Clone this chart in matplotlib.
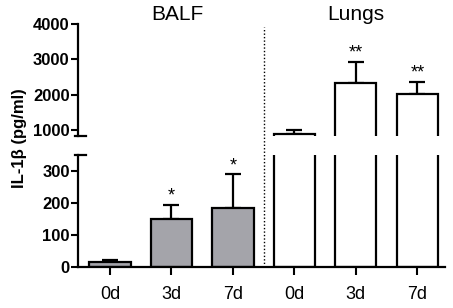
import numpy as np
import matplotlib
matplotlib.use('Agg')
import matplotlib.pyplot as plt

plt.rcParams['font.family'] = ['Liberation Sans', 'DejaVu Sans']

# IL-1beta values (pg/ml), mean and upper SEM
labels = ['0d', '3d', '7d', '0d', '3d', '7d']
groups = ['BALF', 'Lungs']
means = [16, 150, 184, 900, 2330, 2020]
errs = [6, 44, 106, 100, 600, 340]
stars = ['', '*', '*', '', '**', '**']
colors = ['#a4a4aa'] * 3 + ['white'] * 3

x = np.arange(len(labels))
W, H = 453, 308
fig = plt.figure(figsize=(W / 100, H / 100), dpi=100)

left = 78 / W
width = 367 / W
ax_hi = fig.add_axes([left, (H - 136) / H, width, 112 / H])
ax_lo = fig.add_axes([left, (H - 267) / H, width, 112 / H])

for ax in (ax_hi, ax_lo):
    ax.bar(x, means, width=0.67, color=colors, edgecolor='black', linewidth=1.6, zorder=2)
    ax.errorbar(x, means, yerr=[np.zeros(len(errs)), errs], fmt='none',
                ecolor='black', elinewidth=1.6, capsize=5.5, capthick=1.6, zorder=1)
    ax.set_xlim(-0.52, 5.45)
    for s in ['top', 'right']:
        ax.spines[s].set_visible(False)
    ax.spines['left'].set_linewidth(1.6)
    ax.tick_params(axis='y', length=5, width=1.5, labelsize=12, pad=1)

ax_hi.set_ylim(830, 4000)
ax_hi.set_yticks([1000, 2000, 3000, 4000])
ax_hi.spines['bottom'].set_visible(False)
ax_hi.set_xticks([])

ax_lo.set_ylim(0, 350)
ax_lo.set_yticks([0, 100, 200, 300])
ax_lo.spines['bottom'].set_linewidth(1.6)
ax_lo.set_xticks(x)
ax_lo.set_xticklabels(labels, fontsize=13)
ax_lo.tick_params(axis='x', length=6, width=1.5, pad=8)
for ax in (ax_hi, ax_lo):
    for t in ax.get_yticklabels():
        t.set_fontweight('bold')

# axis break marks
ax_hi.plot([-0.008, 0.022], [0, 0], transform=ax_hi.transAxes, color='black',
           lw=1.6, clip_on=False)
ax_lo.plot([-0.008, 0.022], [1, 1], transform=ax_lo.transAxes, color='black',
           lw=1.6, clip_on=False)

# significance stars
for i in range(len(x)):
    if not stars[i]:
        continue
    top = means[i] + errs[i]
    ax = ax_lo if top < 350 else ax_hi
    ax.text(x[i], top, stars[i], ha='center', va='bottom', fontsize=13)

# dotted separator
ax_lo.axvline(2.5, ymin=0, ymax=2.14, color='black', lw=1, ls=(0, (1, 1.5)),
              clip_on=False)

# group titles
ax_hi.text(1.1, 4110, groups[0], ha='center', va='baseline', fontsize=15)
ax_hi.text(4.0, 4110, groups[1], ha='center', va='baseline', fontsize=15)

fig.text(20 / W, 1 - 138 / H, 'IL-1\u03b2 (pg/ml)', rotation=90, ha='center',
         va='center', fontsize=12, fontweight='bold')

fig.savefig('out.png', dpi=100)
